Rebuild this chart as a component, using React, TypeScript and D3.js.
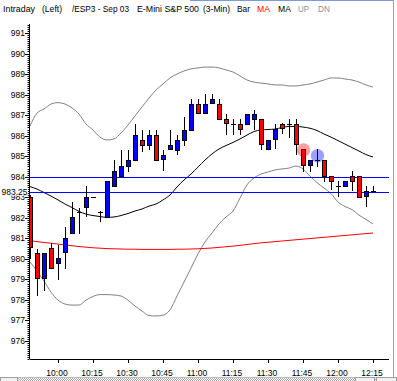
import React from "react";
import * as d3 from "d3";

// ---------- data ----------
const opens = [983.0, 980.27, 979.05, 980.51, 979.78, 980.32, 981.27, 982.3, 982.54, 983.0,
  982.3, 982.02, 983.55, 984.05, 984.54, 984.81, 985.79, 985.54, 986.03, 984.86,
  985.33, 985.3, 985.79, 986.28, 987.53, 987.09, 987.58, 987.53, 986.81, 986.57,
  986.57, 986.55, 986.81, 986.81, 985.33, 985.82, 986.57, 986.57, 986.57, 985.33,
  984.57, 984.81, 984.81, 984.03, 983.55, 983.55, 984.03, 984.03, 983.06, 983.3];
const highs = [983.1, 980.5, 980.3, 980.75, 980.67, 981.57, 982.78, 982.47, 983.55, 983.0,
  982.33, 983.8, 984.81, 985.3, 985.3, 986.55, 986.28, 986.28, 986.28, 985.3,
  986.28, 986.03, 986.9, 987.79, 987.79, 988.01, 988.01, 987.79, 987.04, 986.82,
  986.82, 987.05, 987.25, 986.81, 985.79, 986.57, 986.6, 986.81, 986.8, 985.33,
  984.81, 985.33, 984.81, 984.03, 983.8, 983.8, 984.28, 984.03, 983.55, 983.55];
const lows = [980.0, 978.2, 978.45, 979.5, 978.97, 979.49, 981.25, 981.2, 982.02, 983.0,
  981.8, 982.0, 983.55, 984.05, 984.24, 984.81, 985.22, 985.3, 984.81, 984.28,
  985.33, 985.06, 985.5, 986.28, 987.09, 987.09, 987.53, 986.81, 986.03, 986.03,
  986.03, 986.55, 986.28, 985.3, 985.33, 985.33, 986.08, 985.87, 985.06, 984.24,
  984.24, 984.49, 983.76, 983.35, 983.0, 983.55, 983.3, 983.03, 982.51, 983.3];
const closes = [980.56, 979.05, 980.27, 979.54, 980.04, 981.0, 982.02, 982.3, 983.0, 983.0,
  982.3, 983.79, 984.28, 984.52, 984.81, 986.03, 985.54, 986.03, 984.81, 985.06,
  985.54, 985.79, 986.28, 987.53, 987.09, 987.53, 987.79, 986.81, 986.6, 986.57,
  986.31, 987.05, 987.05, 985.59, 985.79, 986.31, 986.36, 986.57, 985.59, 984.57,
  984.81, 984.81, 984.03, 983.81, 983.55, 983.8, 983.79, 983.03, 983.3, 983.3];

const maRed = [980.88, 980.84, 980.8, 980.76, 980.72, 980.68, 980.64, 980.6, 980.57, 980.54,
  980.52, 980.5, 980.49, 980.48, 980.47, 980.47, 980.46, 980.46, 980.46, 980.46,
  980.46, 980.47, 980.47, 980.48, 980.49, 980.51, 980.53, 980.56, 980.59, 980.62,
  980.66, 980.7, 980.74, 980.78, 980.81, 980.84, 980.87, 980.9, 980.93, 980.96,
  980.99, 981.02, 981.05, 981.08, 981.11, 981.14, 981.17, 981.2, 981.23, 981.26];
const maBlack = [983.52, 983.4, 983.23, 983.06, 982.87, 982.67, 982.5, 982.31, 982.18, 982.11,
  982.06, 982.02, 982.04, 982.11, 982.21, 982.33, 982.43, 982.57, 982.67, 982.87,
  983.11, 983.5, 983.84, 984.13, 984.47, 984.81, 985.11, 985.35, 985.52, 985.67,
  985.84, 986.03, 986.2, 986.28, 986.3, 986.32, 986.4, 986.45, 986.45, 986.42,
  986.36, 986.25, 986.08, 985.93, 985.76, 985.59, 985.42, 985.25, 985.08, 984.96];
const bandUpper = [986.47, 987.1, 987.3, 987.54, 987.61, 987.54, 987.35, 987.05, 986.57, 986.28,
  985.93, 985.79, 985.84, 986.13, 986.52, 986.96, 987.4, 987.83, 988.22, 988.52,
  988.81, 989.0, 989.15, 989.25, 989.3, 989.34, 989.34, 989.3, 989.2, 989.1,
  988.91, 988.71, 988.61, 988.56, 988.52, 988.47, 988.47, 988.42, 988.42, 988.47,
  988.52, 988.61, 988.71, 988.81, 988.81, 988.76, 988.71, 988.61, 988.47, 988.37];
const bandLower = [979.85, 979.41, 978.92, 978.38, 977.99, 977.8, 977.75, 977.75, 977.99, 978.17,
  978.26, 978.26, 978.24, 978.19, 977.99, 977.7, 977.46, 977.24, 977.22, 977.26,
  977.51, 978.19, 978.87, 979.55, 980.24, 980.82, 981.26, 981.7, 982.04, 982.33,
  982.96, 983.6, 983.94, 984.13, 984.23, 984.33, 984.38, 984.42, 984.52, 984.38,
  984.03, 983.72, 983.45, 983.18, 982.77, 982.55, 982.4, 982.13, 981.92, 981.7];

const levelLines = [984, 983.25];
const levelLabel = "983.25";
const firstBarTime = "9:48";
const barPeriodMin = 3;
const xTickLabels = ["10:00", "10:15", "10:30", "10:45", "11:00", "11:15", "11:30", "11:45", "12:00", "12:15"];
const yTickValues = [976, 977, 978, 979, 980, 981, 982, 983, 984, 985, 986, 987, 988, 989, 990, 991];
const markerBars = [39, 41];
const markerPrices = [985.3, 985.02];
const markerKinds = ["sell", "buy"];
const headerTexts = ["Intraday", "(Left)", "/ESP3 - Sep 03", "E-Mini S&P 500", "(3-Min)", "Bar", "MA", "MA", "UP", "DN"];

// ---------- layout ----------
const W = 397, H = 381;
const headerX = [3, 42, 72, 137, 203, 237, 257, 278, 298, 318];
const headerW = [32, 20, 57, 62, 27, 13, 13, 13, 11, 12];
const headerColor = ["#000", "#000", "#000", "#000", "#000", "#000", "#ff0000", "#000", "#909090", "#909090"];
const plotL = 29.5, plotR = 389, plotT = 24, plotB = 359;

const toMin = (s: string) => { const [h, m] = s.split(":").map(Number); return h * 60 + m; };

export default function App() {
  const t0 = toMin(firstBarTime);
  const barMin = opens.map((_, i) => t0 + i * barPeriodMin);
  const x = d3.scaleLinear().domain([toMin("10:00"), toMin("12:15")]).range([58, 373]);
  const y = d3.scaleLinear().domain([976, 991]).range([341, 33]);

  const line = (vals: number[]) =>
    d3.line<number>().x((_, i) => x(barMin[i])).y((v) => y(v)).curve(d3.curveMonotoneX)(vals) || "";

  const minorTicks = d3.range(Math.ceil(975.1 * 10), Math.floor(991.4 * 10) + 1).map((v) => v / 10);

  const font = "Arial, 'Liberation Sans', sans-serif";

  return (
    <svg width={W} height={H} style={{ position: "absolute", left: 0, top: 0, background: "#fff" }}
      xmlns="http://www.w3.org/2000/svg">
      <defs>
        <clipPath id="plot">
          <rect x={plotL} y={plotT} width={plotR - plotL} height={plotB - plotT} />
        </clipPath>
        <pattern id="hatch" width="2" height="2" patternUnits="userSpaceOnUse">
          <rect width="2" height="2" fill="#fff" />
          <rect width="1" height="1" fill="#a8a8a8" />
          <rect x="1" y="1" width="1" height="1" fill="#a8a8a8" />
        </pattern>
      </defs>
      <rect x={0} y={0} width={W} height={H} fill="#fff" />
      {/* window frame bits */}
      <line x1={190} x2={394} y1={0.5} y2={0.5} stroke="#7b9ad6" />
      <line x1={393.5} x2={393.5} y1={0} y2={H} stroke="#a0a0a0" />

      {/* header */}
      {headerTexts.map((t, i) => (
        <text key={i} x={headerX[i]} y={12} fontFamily={font} fontSize={9.5} fill={headerColor[i]}
          textLength={headerW[i]} lengthAdjust="spacingAndGlyphs">{t}</text>
      ))}

      {/* plot content */}
      <g clipPath="url(#plot)">
        <path d={line(bandUpper)} fill="none" stroke="#808080" strokeWidth={1} />
        <path d={line(bandLower)} fill="none" stroke="#808080" strokeWidth={1} />
        <path d={line(maRed)} fill="none" stroke="#ff0000" strokeWidth={1} />
        <path d={line(maBlack)} fill="none" stroke="#000" strokeWidth={1} />
        {levelLines.map((v, i) => (
          <line key={i} x1={plotL} x2={plotR} y1={Math.round(y(v)) + 0.5} y2={Math.round(y(v)) + 0.5}
            stroke="#0000ff" strokeWidth={1} shapeRendering="crispEdges" />
        ))}
        {opens.map((o, i) => {
          const c = closes[i], h = highs[i], l = lows[i];
          const cx = Math.round(x(barMin[i]));
          const up = c >= o;
          const yt = Math.round(y(Math.max(o, c)));
          const yb = Math.round(y(Math.min(o, c)));
          const wy1 = Math.round(y(h)), wy2 = Math.round(y(l));
          return (
            <g key={i}>
              {wy2 - wy1 > 0 && (
                <line x1={cx + 0.5} x2={cx + 0.5} y1={wy1} y2={wy2} stroke="#000" strokeWidth={1} />
              )}
              {yb - yt < 2 ? (
                <line x1={cx - 2} x2={cx + 3} y1={yt + 0.5} y2={yt + 0.5} stroke="#000" strokeWidth={1} />
              ) : (
                <rect x={cx - 1.5} y={yt + 0.5} width={4} height={yb - yt} fill={up ? "#0000ff" : "#ff0000"}
                  stroke="#000" strokeWidth={1} />
              )}
            </g>
          );
        })}
        {markerBars.map((b, i) => (
          <circle key={i} cx={x(barMin[b]) + 0.5} cy={y(markerPrices[i])} r={6.7}
            fill={markerKinds[i] === "sell" ? "#ff0000" : "#0000ff"} fillOpacity={0.38} />
        ))}
      </g>

      {/* y axis */}
      <line x1={plotL} x2={plotL} y1={plotT} y2={plotB} stroke="#000" strokeWidth={1} />
      {minorTicks.map((v) => (
        <line key={v} x1={27.5} x2={29} y1={Math.round(y(v)) + 0.5} y2={Math.round(y(v)) + 0.5}
          stroke="#000" strokeWidth={1} />
      ))}
      {yTickValues.map((v) => (
        <g key={v}>
          <line x1={25} x2={29} y1={Math.round(y(v)) + 0.5} y2={Math.round(y(v)) + 0.5} stroke="#000" />
          <text x={25} y={y(v) + 3} textAnchor="end" fontFamily={font} fontSize={8.5} fill="#000">{v}</text>
        </g>
      ))}
      <rect x={0} y={y(983.25) - 4.5} width={28} height={8} fill="#fff" />
      <text x={27.5} y={y(983.25) + 3} textAnchor="end" fontFamily={font} fontSize={8.5} fill="#000">{levelLabel}</text>

      {/* x axis */}
      <line x1={plotL} x2={plotR} y1={plotB + 0.5} y2={plotB + 0.5} stroke="#000" strokeWidth={1} />
      {xTickLabels.map((t) => {
        const tx = Math.round(x(toMin(t))) + 0.5;
        return (
          <g key={t}>
            <line x1={tx} x2={tx} y1={plotB} y2={plotB + 4} stroke="#000" />
            <text x={tx - 1.5} y={376} textAnchor="middle" fontFamily={font} fontSize={8.5} fill="#000">{t}</text>
          </g>
        );
      })}

      {/* bottom scrollbar */}
      <rect x={0} y={377} width={W} height={4} fill="url(#hatch)" />
      <line x1={0} x2={W} y1={377.5} y2={377.5} stroke="#c0c0c0" />
      <rect x={0.5} y={377.5} width={17} height={4} fill="#f0f0f0" stroke="#a0a0a0" />
      <rect x={355.5} y={377.5} width={19} height={4} fill="#f0f0f0" stroke="#a0a0a0" />
      <rect x={376.5} y={377.5} width={20} height={4} fill="#f0f0f0" stroke="#a0a0a0" />
    </svg>
  );
}
